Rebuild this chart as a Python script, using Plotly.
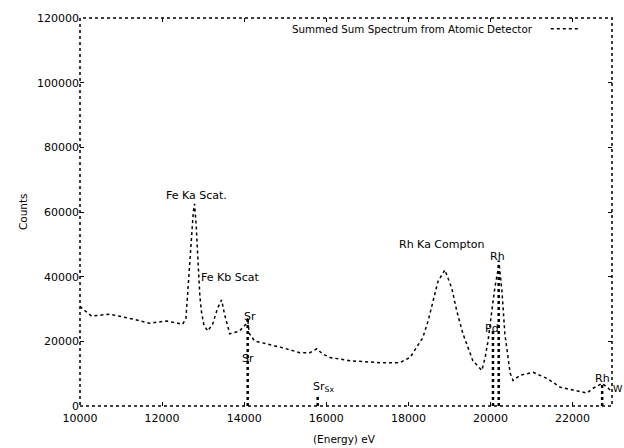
import plotly.graph_objects as go

# Spectrum (energy in eV, counts)
energy = [10000, 10050, 10280, 10720, 11280, 11700, 12110, 12500, 12580, 12640, 12700,
          12760, 12790, 12830, 12870, 12920, 12960, 13020, 13110, 13230, 13350, 13450,
          13520, 13650, 13890, 14060, 14085, 14120, 14255, 14550, 14940, 15350, 15600,
          15770, 15900, 16090, 16570, 17300, 17790, 18040, 18350, 18480, 18600, 18720,
          18890, 19060, 19180, 19330, 19570, 19790, 19870, 19940, 20040, 20110, 20210,
          20280, 20350, 20480, 20550, 20720, 21040, 21380, 21700, 22010, 22350, 22500,
          22720, 22870, 22960]
counts = [30800, 30200, 27800, 28400, 26900, 25600, 26300, 25300, 27000, 38000, 50000,
          60000, 62500, 56000, 46000, 34000, 29000, 25000, 23200, 25300, 30200, 32800,
          28400, 22300, 23200, 25600, 27200, 22500, 20100, 19200, 18000, 16500, 16500,
          17700, 16200, 15000, 14000, 13400, 13400, 15000, 21100, 26300, 32400, 38500,
          42100, 36300, 29300, 22300, 14000, 11000, 15000, 20100, 30200, 36900, 44000,
          35400, 22300, 10100, 7900, 9500, 10400, 8500, 5800, 4900, 4000, 5500,
          7000, 5500, 4300]

# Peak marker lines
marker_energy = [14085, 15790, 20060, 20200, 22720]
marker_height = [27200, 3500, 24000, 45000, 7500]

# Peak labels (inside the plot)
label_text = ["Fe Ka Scat.", "Fe Kb Scat", "Sr", "Sr", "Sr<sub>Sx</sub>", "Rh Ka Compton",
              "Rh", "Pd", "Rh"]
label_energy = [12840, 12890, 14130, 14085, 15930, 18820, 20180, 20040, 22740]
label_counts = [65000, 39700, 27800, 14650, 5800, 49800, 46100, 24100, 8550]
label_anchor = ["center", "left", "center", "center", "center", "center", "center",
                "center", "center"]
# Label just past the right edge
edge_label_text = "W"
edge_label_counts = 5500

x_ticks = [10000, 12000, 14000, 16000, 18000, 20000, 22000]
y_ticks = [0, 20000, 40000, 60000, 80000, 100000, 120000]

series_name = "Summed Sum Spectrum from Atomic Detector"

font_family = "DejaVu Sans"
fig = go.Figure()

fig.add_trace(go.Scatter(x=energy, y=counts, mode="lines", name=series_name,
                         line=dict(color="black", width=1.5, dash="dot"),
                         showlegend=False))

for e, h in zip(marker_energy, marker_height):
    fig.add_trace(go.Scatter(x=[e, e], y=[0, h], mode="lines",
                             line=dict(color="black", width=2.5, dash="dot"),
                             showlegend=False, hoverinfo="skip"))

for t, e, c, a in zip(label_text, label_energy, label_counts, label_anchor):
    fig.add_annotation(x=e, y=c, text=t, showarrow=False, xanchor=a, yanchor="middle",
                       font=dict(size=11, color="black", family=font_family))

fig.add_annotation(xref="paper", yref="y", x=0.998, y=edge_label_counts, text=edge_label_text,
                   showarrow=False, xanchor="left", yanchor="middle",
                   font=dict(size=9.5, color="black", family=font_family))

# Legend (gnuplot style: text then sample)
fig.add_annotation(xref="paper", yref="paper", x=0.855, y=0.972, text=series_name,
                   showarrow=False, xanchor="right", yanchor="middle",
                   font=dict(size=10.3, color="black", family=font_family))
fig.add_shape(type="line", xref="paper", yref="paper", x0=0.885, x1=0.94, y0=0.972, y1=0.972,
              line=dict(color="black", width=1.5, dash="dot"))

# Dotted border
fig.add_shape(type="rect", xref="paper", yref="paper", x0=0, x1=1, y0=0, y1=1,
              line=dict(color="black", width=1.5, dash="dot"))

# Axis titles
fig.add_annotation(xref="paper", yref="paper", x=-0.122, y=0.5, text="Counts", textangle=-90,
                   showarrow=False, font=dict(size=10.5, color="black", family=font_family))
fig.add_annotation(xref="paper", yref="paper", x=0.497, y=-0.085, text="(Energy) eV",
                   showarrow=False, yanchor="middle",
                   font=dict(size=10.5, color="black", family=font_family))

fig.update_xaxes(range=[10000, 22960], tickvals=x_ticks, ticktext=[str(v) for v in x_ticks],
                 ticks="inside", ticklen=4, tickcolor="black", mirror="ticks",
                 showgrid=False, zeroline=False, showline=False, ticklabelstandoff=4,
                 tickfont=dict(size=11, color="black", family=font_family))
fig.update_yaxes(range=[0, 120000], tickvals=y_ticks, ticktext=[str(v) for v in y_ticks],
                 ticks="inside", ticklen=4, tickcolor="black", mirror="ticks",
                 showgrid=False, zeroline=False, showline=False,
                 tickfont=dict(size=11, color="black", family=font_family))

fig.update_layout(width=624, height=448, margin=dict(l=80, r=12, t=13, b=42),
                  paper_bgcolor="white", plot_bgcolor="white", showlegend=False)

fig.write_html("out.html")
